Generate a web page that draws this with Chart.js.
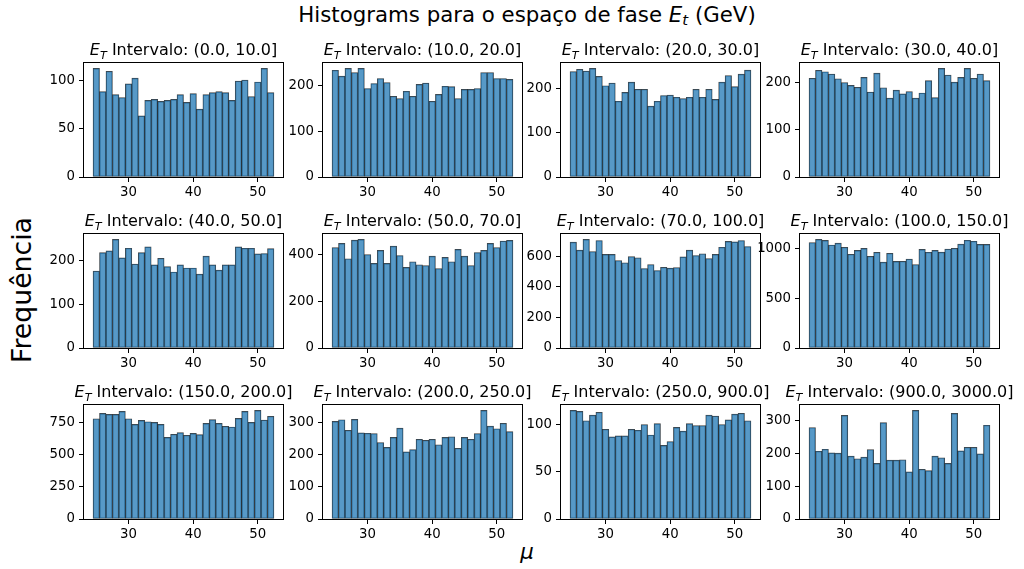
<!DOCTYPE html>
<html>
<head>
<meta charset="utf-8">
<script src="https://cdn.jsdelivr.net/npm/chart.js@4.4.0/dist/chart.umd.min.js"></script>
<style>
  html, body { margin: 0; padding: 0; background: #fff; width: 1024px; height: 569px; overflow: hidden; }
  #fig { position: relative; width: 1024px; height: 569px; font-family: "DejaVu Sans", sans-serif; color: #000; }
  #fig canvas { position: absolute; }
  .lbl { position: absolute; white-space: nowrap; line-height: 1; }
  .lbl sub { font-size: 70%; vertical-align: -0.22em; line-height: 0; }
  #suptitle { font-size: 21.3px; left: 527px; top: 4px; transform: translateX(-50%); }
  #ylabel { font-size: 26.7px; left: 22px; top: 290px; transform: translate(-50%, -50%) rotate(-90deg); }
  #xlabel { font-size: 21.3px; left: 527px; top: 541px; transform: translateX(-50%); }
</style>
</head>
<body>
<div id="fig">
  <div class="lbl" id="suptitle">Histograms para o espaço de fase <i>E</i><sub><i>t</i></sub> (GeV)</div>
  <div class="lbl" id="ylabel">Frequência</div>
  <div class="lbl" id="xlabel"><i>μ</i></div>
</div>
<script>
// Bin centres of the μ histogram (unit-width bins from 24.5 to 52.5)
const binCenters = [25, 26, 27, 28, 29, 30, 31, 32, 33, 34, 35, 36, 37, 38,
                    39, 40, 41, 42, 43, 44, 45, 46, 47, 48, 49, 50, 51, 52];
const xTicks = [30, 40, 50];

// Counts per E_T interval
const countsEt0to10     = [112, 88, 109, 85, 82, 96, 102, 63, 79, 80, 78, 79, 80, 85, 77, 86, 70, 85, 87, 88, 87, 79, 99, 100, 83, 98, 112, 87];
const countsEt10to20    = [234, 221, 238, 229, 238, 194, 205, 216, 207, 177, 172, 188, 177, 203, 206, 166, 181, 199, 198, 172, 192, 192, 194, 229, 229, 216, 216, 214];
const countsEt20to30    = [238, 243, 239, 245, 227, 206, 212, 171, 191, 214, 198, 198, 160, 171, 184, 185, 180, 177, 180, 198, 180, 198, 175, 214, 229, 204, 232, 241];
const countsEt30to40    = [209, 226, 223, 218, 208, 200, 194, 190, 211, 180, 220, 189, 167, 184, 176, 181, 167, 178, 204, 168, 230, 216, 201, 211, 230, 209, 218, 204];
const countsEt40to50    = [175, 217, 221, 247, 205, 227, 191, 217, 230, 189, 204, 185, 173, 189, 182, 182, 168, 209, 189, 177, 189, 189, 230, 227, 227, 214, 215, 226];
const countsEt50to70    = [431, 449, 383, 463, 466, 401, 363, 419, 363, 437, 397, 346, 370, 357, 354, 394, 341, 389, 370, 423, 394, 354, 410, 419, 449, 431, 459, 462];
const countsEt70to100   = [692, 640, 710, 631, 703, 612, 612, 572, 557, 598, 590, 520, 546, 507, 528, 522, 526, 596, 640, 605, 616, 585, 612, 659, 697, 694, 703, 664];
const countsEt100to150  = [1063, 1094, 1084, 1038, 1056, 1015, 944, 984, 1004, 924, 964, 865, 954, 873, 874, 896, 841, 994, 965, 984, 966, 997, 1005, 1046, 1086, 1076, 1044, 1044];
const countsEt150to200  = [782, 824, 816, 816, 839, 782, 738, 769, 759, 754, 738, 637, 661, 674, 653, 668, 658, 746, 775, 746, 723, 718, 785, 839, 754, 847, 772, 801];
const countsEt200to250  = [304, 309, 276, 310, 268, 267, 266, 238, 223, 254, 283, 209, 216, 248, 245, 248, 231, 254, 256, 220, 254, 248, 266, 338, 289, 281, 298, 272];
const countsEt250to900  = [115, 114, 104, 110, 113, 95, 87, 88, 88, 95, 94, 100, 89, 101, 78, 82, 97, 93, 101, 99, 99, 110, 109, 100, 105, 111, 112, 104];
const countsEt900to3000 = [278, 206, 212, 201, 200, 315, 191, 183, 188, 211, 169, 293, 179, 179, 180, 143, 330, 151, 147, 191, 186, 169, 321, 207, 218, 218, 198, 285];

// Interval labels shown above each panel
const intervalLabels = ['(0.0, 10.0]', '(10.0, 20.0]', '(20.0, 30.0]', '(30.0, 40.0]',
                        '(40.0, 50.0]', '(50.0, 70.0]', '(70.0, 100.0]', '(100.0, 150.0]',
                        '(150.0, 200.0]', '(200.0, 250.0]', '(250.0, 900.0]', '(900.0, 3000.0]'];

// Y tick values per panel
const yTicksEt0to10     = [0, 50, 100];
const yTicksEt10to20    = [0, 100, 200];
const yTicksEt20to30    = [0, 100, 200];
const yTicksEt30to40    = [0, 100, 200];
const yTicksEt40to50    = [0, 100, 200];
const yTicksEt50to70    = [0, 200, 400];
const yTicksEt70to100   = [0, 200, 400, 600];
const yTicksEt100to150  = [0, 500, 1000];
const yTicksEt150to200  = [0, 250, 500, 750];
const yTicksEt200to250  = [0, 100, 200, 300];
const yTicksEt250to900  = [0, 50, 100];
const yTicksEt900to3000 = [0, 100, 200, 300];

const panelCounts = [countsEt0to10, countsEt10to20, countsEt20to30, countsEt30to40,
                     countsEt40to50, countsEt50to70, countsEt70to100, countsEt100to150,
                     countsEt150to200, countsEt200to250, countsEt250to900, countsEt900to3000];
const panelYTicks = [yTicksEt0to10, yTicksEt10to20, yTicksEt20to30, yTicksEt30to40,
                     yTicksEt40to50, yTicksEt50to70, yTicksEt70to100, yTicksEt100to150,
                     yTicksEt150to200, yTicksEt200to250, yTicksEt250to900, yTicksEt900to3000];

// Grid geometry (plot-area boxes)
const AX_LEFT = [84, 323, 561, 800];
const AX_TOP = [63, 234, 405];
const AX_W = 199, AX_H = 114;
const Y_W = 60, PAD_T = 34, PAD_R = 34, X_H = 30;

const FONT = '"DejaVu Sans", sans-serif';
const TICK_SIZE = 13.3;

// x range: bin edges plus 5% margin on both sides
const edgeLo = binCenters[0] - 0.5, edgeHi = binCenters[binCenters.length - 1] + 0.5;
const span = edgeHi - edgeLo;
const X_MIN = edgeLo - 0.05 * span, X_MAX = edgeHi + 0.05 * span;

// Axes frame (all four spines)
const frame = {
  id: 'frame',
  afterDatasetsDraw(chart) {
    const { ctx, chartArea: a } = chart;
    ctx.save();
    ctx.strokeStyle = '#000';
    ctx.lineWidth = 1;
    ctx.strokeRect(a.left - 0.5, a.top - 0.5, a.right - a.left + 1, a.bottom - a.top + 1);
    ctx.restore();
  }
};

// Panel title: italic E with subscript T, then the interval text
const panelTitle = {
  id: 'panelTitle',
  afterDraw(chart, args, opts) {
    const { ctx, chartArea: a } = chart;
    const size = 16;
    const parts = [
      { t: 'E', font: `italic ${size}px ${FONT}`, dy: 0 },
      { t: 'T', font: `italic ${(size * 0.7).toFixed(1)}px ${FONT}`, dy: size * 0.22 },
      { t: ' Intervalo: ' + opts.text, font: `${size}px ${FONT}`, dy: 0 }
    ];
    ctx.save();
    let total = 0;
    parts.forEach(p => { ctx.font = p.font; p.w = ctx.measureText(p.t).width; total += p.w; });
    let x = (a.left + a.right) / 2 - total / 2;
    const base = a.top - 8;
    ctx.fillStyle = '#000';
    ctx.textBaseline = 'alphabetic';
    ctx.textAlign = 'left';
    parts.forEach(p => { ctx.font = p.font; ctx.fillText(p.t, x, base + p.dy); x += p.w; });
    ctx.restore();
  }
};

const fig = document.getElementById('fig');

panelCounts.forEach((counts, i) => {
  const r = Math.floor(i / 4), c = i % 4;
  const cv = document.createElement('canvas');
  const w = Y_W + AX_W + PAD_R, h = PAD_T + AX_H + X_H;
  cv.width = w; cv.height = h;
  cv.style.width = w + 'px'; cv.style.height = h + 'px';
  cv.style.left = (AX_LEFT[c] - Y_W) + 'px';
  cv.style.top = (AX_TOP[r] - PAD_T) + 'px';
  fig.appendChild(cv);

  const yTicks = panelYTicks[i];
  const yMax = Math.max(...counts) * 1.05;

  new Chart(cv, {
    type: 'bar',
    data: {
      datasets: [{
        data: binCenters.map((x, k) => ({ x: x, y: counts[k] })),
        backgroundColor: 'rgba(31,119,180,0.75)',
        borderColor: 'rgba(0,0,0,0.75)',
        borderWidth: 0.7,
        borderSkipped: false,
        barPercentage: 1,
        categoryPercentage: 1
      }]
    },
    options: {
      responsive: false,
      animation: false,
      devicePixelRatio: 1,
      layout: { padding: { left: 0, top: PAD_T, right: PAD_R, bottom: 0 } },
      plugins: {
        legend: { display: false },
        tooltip: { enabled: false },
        panelTitle: { text: intervalLabels[i] }
      },
      scales: {
        x: {
          type: 'linear',
          min: X_MIN, max: X_MAX,
          offset: false,
          grid: { display: true, offset: false, drawOnChartArea: false, drawTicks: true,
                  tickLength: 5, color: '#000', lineWidth: 1 },
          border: { display: false },
          ticks: { font: { size: TICK_SIZE, family: FONT }, color: '#000', padding: 3,
                   maxRotation: 0, autoSkip: false, callback: v => String(v) },
          afterBuildTicks: s => { s.ticks = xTicks.map(v => ({ value: v })); },
          afterFit: s => { s.height = X_H; }
        },
        y: {
          type: 'linear',
          min: 0, max: yMax,
          grid: { display: true, drawOnChartArea: false, drawTicks: true,
                  tickLength: 5, color: '#000', lineWidth: 1 },
          border: { display: false },
          ticks: { font: { size: TICK_SIZE, family: FONT }, color: '#000', padding: 4,
                   autoSkip: false, callback: v => String(v) },
          afterBuildTicks: s => { s.ticks = yTicks.map(v => ({ value: v })); },
          afterFit: s => { s.width = Y_W; }
        }
      }
    },
    plugins: [frame, panelTitle]
  });
});
</script>
</body>
</html>
